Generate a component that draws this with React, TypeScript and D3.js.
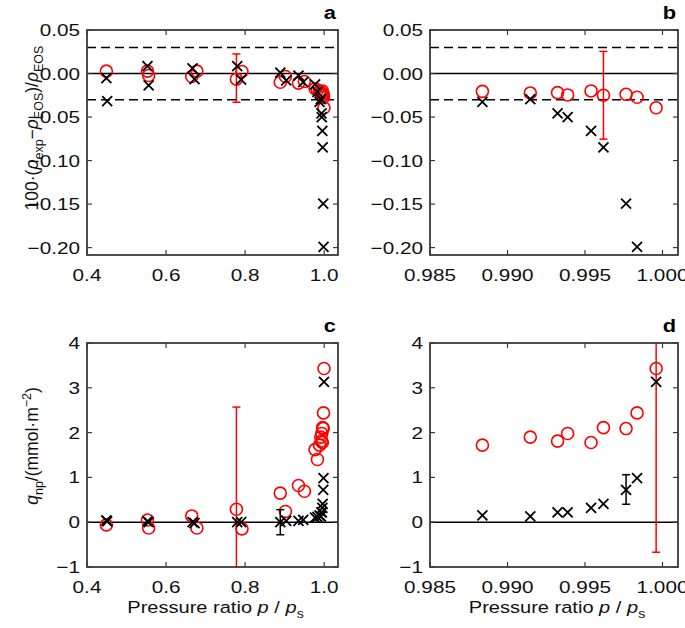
import React from "react";
import * as d3 from "d3";

// ---- Data ----
// Red circles series: pressure ratio, density deviation (a,b), q_np (c,d)
const redP = [0.449, 0.553, 0.556, 0.665, 0.678, 0.778, 0.792, 0.889, 0.902, 0.935, 0.95, 0.977, 0.983,
  0.98838, 0.99147, 0.99323, 0.99388, 0.99539, 0.99619, 0.99765, 0.99836, 0.99959];
const redDev = [0.0027, 0.0027, -0.0023, -0.0034, 0.0027, -0.0065, 0.0023, -0.010, -0.0034, -0.011, -0.0092, -0.0175, -0.019,
  -0.0205, -0.0223, -0.022, -0.0246, -0.020, -0.025, -0.0239, -0.0273, -0.0394];
const redQ = [-0.06, 0.05, -0.13, 0.14, -0.13, 0.29, -0.15, 0.65, 0.24, 0.82, 0.69, 1.62, 1.40,
  1.72, 1.90, 1.81, 1.98, 1.78, 2.11, 2.09, 2.44, 3.43];

// Black crosses series
const blackP = [0.449, 0.451, 0.553, 0.556, 0.667, 0.672, 0.78, 0.79, 0.889, 0.904, 0.935, 0.947, 0.977, 0.983,
  0.98838, 0.99147, 0.99323, 0.99388, 0.99539, 0.99619, 0.99765, 0.99836, 0.99959];
const blackDev = [-0.0053, -0.0317, 0.0084, -0.0137, 0.006, -0.0065, 0.0084, -0.007, 0.001, -0.008, -0.0023, -0.010, -0.0126, -0.021,
  -0.0326, -0.0295, -0.0458, -0.050, -0.066, -0.0848, -0.1496, -0.1992, null];
const blackQ = [0.04, 0.02, 0.02, 0.0, 0.0, -0.02, 0.0, 0.0, 0.0, 0.03, 0.03, 0.05, 0.1, 0.12,
  0.15, 0.13, 0.22, 0.22, 0.32, 0.41, 0.72, 0.985, 3.13];

// Error bars per panel: [p, low, high]
const errA_red = [[0.778, -0.033, 0.0225]];
const errB_red = [[0.99619, -0.0754, 0.0254]];
const errC_red = [[0.778, -1.99, 2.57]];
const errC_black = [[0.889, -0.28, 0.28]];
const errD_red = [[0.99959, -0.67, 7.5]];
const errD_black = [[0.99765, 0.40, 1.06]];

// Ticks
const xTicksWide = [0.4, 0.6, 0.8, 1.0];
const xTicksZoom = [0.985, 0.99, 0.995, 1.0];
const yTicksDev = [0.05, 0.0, -0.05, -0.1, -0.15, -0.2];
const yTicksQ = [-1, 0, 1, 2, 3, 4];
const devRefLines = [0.03, -0.03];

const FONT = "Liberation Sans, Arial, sans-serif";
const SX = 1.22; // horizontal stretch of the reference's text

type Pt = { p: number; v: number | null };

function zip(ps: number[], vs: (number | null)[]): Pt[] {
  return ps.map((p, i) => ({ p, v: vs[i] }));
}

function Panel(props: {
  id: string;
  x0: number; x1: number; y0: number; y1: number;
  xDomain: [number, number]; yDomain: [number, number];
  xTicks: number[]; yTicks: number[];
  xFmt: (n: number) => string; yFmt: (n: number) => string;
  red: Pt[]; black: Pt[];
  redErr: number[][]; blackErr: number[][];
  dashed: number[];
  letter: string;
}) {
  const { id, x0, x1, y0, y1 } = props;
  const x = d3.scaleLinear().domain(props.xDomain).range([x0, x1]);
  const y = d3.scaleLinear().domain(props.yDomain).range([y1, y0]);
  const tl = 5;
  const cap = 4;
  const xs = 5;
  const axisColor = "#3a3a3a";
  const inX = (p: number) => p >= props.xDomain[0] && p <= props.xDomain[1];
  return (
    <g>
      <defs>
        <clipPath id={id}>
          <rect x={x0} y={y0} width={x1 - x0} height={y1 - y0} />
        </clipPath>
      </defs>
      <g clipPath={`url(#${id})`}>
        <line x1={x0} x2={x1} y1={y(0)} y2={y(0)} stroke="#000" strokeWidth={1.5} />
        {props.dashed.map((d, i) => (
          <line key={i} x1={x0} x2={x1} y1={y(d)} y2={y(d)} stroke="#000" strokeWidth={1.5} strokeDasharray="9,5" />
        ))}
        {props.redErr.map((e, i) => (
          <g key={i} stroke="#ff0000" strokeWidth={1.5}>
            <line x1={x(e[0])} x2={x(e[0])} y1={y(e[1])} y2={y(e[2])} />
            <line x1={x(e[0]) - cap} x2={x(e[0]) + cap} y1={y(e[1])} y2={y(e[1])} />
            <line x1={x(e[0]) - cap} x2={x(e[0]) + cap} y1={y(e[2])} y2={y(e[2])} />
          </g>
        ))}
        {props.red.filter((d) => d.v !== null && inX(d.p)).map((d, i) => (
          <circle key={i} cx={x(d.p)} cy={y(d.v as number)} r={6} fill="none" stroke="#ff0000" strokeWidth={1.6} />
        ))}
        {props.blackErr.map((e, i) => (
          <g key={i} stroke="#000" strokeWidth={1.5}>
            <line x1={x(e[0])} x2={x(e[0])} y1={y(e[1])} y2={y(e[2])} />
            <line x1={x(e[0]) - cap} x2={x(e[0]) + cap} y1={y(e[1])} y2={y(e[1])} />
            <line x1={x(e[0]) - cap} x2={x(e[0]) + cap} y1={y(e[2])} y2={y(e[2])} />
          </g>
        ))}
        {props.black.filter((d) => d.v !== null && inX(d.p)).map((d, i) => {
          const cx = x(d.p), cy = y(d.v as number);
          return (
            <path key={i} d={`M${cx - xs},${cy - xs}L${cx + xs},${cy + xs}M${cx - xs},${cy + xs}L${cx + xs},${cy - xs}`}
              stroke="#000" strokeWidth={1.8} fill="none" />
          );
        })}
      </g>
      {/* ticks inward on all sides */}
      <g stroke={axisColor} strokeWidth={1.2}>
        {props.xTicks.map((t, i) => (
          <g key={i}>
            <line x1={x(t)} x2={x(t)} y1={y1} y2={y1 - tl} />
            <line x1={x(t)} x2={x(t)} y1={y0} y2={y0 + tl} />
          </g>
        ))}
        {props.yTicks.map((t, i) => (
          <g key={i}>
            <line x1={x0} x2={x0 + tl} y1={y(t)} y2={y(t)} />
            <line x1={x1} x2={x1 - tl} y1={y(t)} y2={y(t)} />
          </g>
        ))}
      </g>
      <rect x={x0} y={y0} width={x1 - x0} height={y1 - y0} fill="none" stroke={axisColor} strokeWidth={1.8} />
      <g fontFamily={FONT} fontSize={17} fill="#111">
        {props.xTicks.map((t, i) => (
          <text key={i} transform={`translate(${x(t)},${y1 + 26}) scale(${SX},1)`} textAnchor="middle">{props.xFmt(t)}</text>
        ))}
        {props.yTicks.map((t, i) => (
          <text key={i} transform={`translate(${x0 - 7},${y(t) + 6}) scale(${SX},1)`} textAnchor="end">{props.yFmt(t)}</text>
        ))}
      </g>
      <text transform={`translate(${x1 - 2},${y0 - 11}) scale(1.15,1)`} textAnchor="end" fontFamily={FONT} fontSize={19} fontWeight="bold">{props.letter}</text>
    </g>
  );
}

export default function App() {
  const red = zip(redP, redDev);
  const black = zip(blackP, blackDev);
  const redq = zip(redP, redQ);
  const blackq = zip(blackP, blackQ);
  const f1 = d3.format(".1f");
  const f3 = d3.format(".3f");
  const f2 = d3.format(".2f");
  const fd = d3.format("d");
  const L = [87, 338];
  const R = [430, 678];
  const T = [30, 255];
  const B = [343, 567];
  const wideDom: [number, number] = [0.4, 1.035];
  const zoomDom: [number, number] = [0.985, 1.001];
  const devDom: [number, number] = [-0.2085, 0.05];
  const qDom: [number, number] = [-1, 4];
  return (
    <svg width={685} height={628} style={{ position: "absolute", left: 0, top: 0, background: "#fff" }}>
      <rect width={685} height={628} fill="#fff" />
      <Panel id="pa" x0={L[0]} x1={L[1]} y0={T[0]} y1={T[1]} xDomain={wideDom} yDomain={devDom}
        xTicks={xTicksWide} yTicks={yTicksDev} xFmt={f1} yFmt={f2} red={red} black={black}
        redErr={errA_red} blackErr={[]} dashed={devRefLines} letter="a" />
      <Panel id="pb" x0={R[0]} x1={R[1]} y0={T[0]} y1={T[1]} xDomain={zoomDom} yDomain={devDom}
        xTicks={xTicksZoom} yTicks={yTicksDev} xFmt={f3} yFmt={f2} red={red} black={black}
        redErr={errB_red} blackErr={[]} dashed={devRefLines} letter="b" />
      <Panel id="pc" x0={L[0]} x1={L[1]} y0={B[0]} y1={B[1]} xDomain={wideDom} yDomain={qDom}
        xTicks={xTicksWide} yTicks={yTicksQ} xFmt={f1} yFmt={fd} red={redq} black={blackq}
        redErr={errC_red} blackErr={errC_black} dashed={[]} letter="c" />
      <Panel id="pd" x0={R[0]} x1={R[1]} y0={B[0]} y1={B[1]} xDomain={zoomDom} yDomain={qDom}
        xTicks={xTicksZoom} yTicks={yTicksQ} xFmt={f3} yFmt={fd} red={redq} black={blackq}
        redErr={errD_red} blackErr={errD_black} dashed={[]} letter="d" />
      {/* Y axis labels */}
      <text transform="translate(38,128) rotate(-90)" textAnchor="middle" fontFamily={FONT} fontSize={17.5} fill="#111">
        100·(<tspan fontStyle="italic">ρ</tspan><tspan fontSize={12.5} dy={5}>exp</tspan><tspan dy={-5}>−</tspan>
        <tspan fontStyle="italic">ρ</tspan><tspan fontSize={12.5} dy={5}>EOS</tspan><tspan dy={-5}>)/</tspan>
        <tspan fontStyle="italic">ρ</tspan><tspan fontSize={12.5} dy={5}>EOS</tspan>
      </text>
      <text transform="translate(38,446) rotate(-90)" textAnchor="middle" fontFamily={FONT} fontSize={17.5} fill="#111">
        <tspan fontStyle="italic">q</tspan><tspan fontSize={12.5} dy={5}>np</tspan><tspan dy={-5}>/(mmol·m</tspan>
        <tspan fontSize={12.5} dy={-7}>−2</tspan><tspan dy={7}>)</tspan>
      </text>
      {/* X axis labels */}
      {[L, R].map((r, i) => (
        <text key={i} transform={`translate(${(r[0] + r[1]) / 2 + 3},613) scale(1.18,1)`} textAnchor="middle" fontFamily={FONT} fontSize={17} fill="#111">
          Pressure ratio <tspan fontStyle="italic">p</tspan> / <tspan fontStyle="italic">p</tspan>
          <tspan fontSize={12} dy={5}>s</tspan>
        </text>
      ))}
    </svg>
  );
}
